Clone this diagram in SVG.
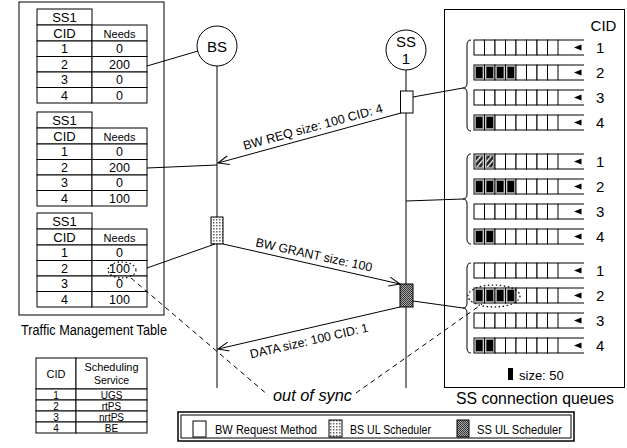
<svg xmlns="http://www.w3.org/2000/svg" xmlns:xlink="http://www.w3.org/1999/xlink" width="627" height="448" viewBox="0 0 627 448">
<style>
.t{font-family:"Liberation Sans",Arial,sans-serif;fill:#000}
.c{text-anchor:middle}
.ln{stroke:#000;stroke-width:1;fill:none}
.cell{fill:#fff;stroke:#000;stroke-width:1}
.dash{stroke:#000;stroke-width:1;fill:none;stroke-dasharray:5,4}
.dot{stroke:#000;stroke-width:1.2;fill:none;stroke-dasharray:1.5,2.5}
.fill{fill:#000;stroke:#999;stroke-width:1}
</style>
<defs>
<marker id="arr" viewBox="0 0 12 10" refX="11" refY="5" markerWidth="12" markerHeight="10" markerUnits="userSpaceOnUse" orient="auto">
<path d="M0,0.5 L11,5 L0,9.5" fill="none" stroke="#000" stroke-width="1"/>
</marker>
<pattern id="bsPat" width="3" height="3" patternUnits="userSpaceOnUse"><rect width="3" height="3" fill="#fff"/><rect width="1.5" height="1.5" fill="#666"/></pattern>
<pattern id="ssPat" width="2" height="2" patternUnits="userSpaceOnUse"><rect width="2" height="2" fill="#aaa"/><rect width="1" height="1" fill="#333"/><rect x="1" y="1" width="1" height="1" fill="#333"/></pattern>
<pattern id="hatch" width="4" height="4" patternUnits="userSpaceOnUse" patternTransform="rotate(40)"><rect width="4" height="4" fill="#222"/><rect width="1.3" height="4" fill="#fff"/></pattern>
<g id="row">
<rect class="cell" x="0" y="0" width="10.5" height="15"/>
<rect class="cell" x="10.5" y="0" width="10.5" height="15"/>
<rect class="cell" x="21" y="0" width="10.5" height="15"/>
<rect class="cell" x="31.5" y="0" width="10.5" height="15"/>
<rect class="cell" x="42" y="0" width="10.5" height="15"/>
<rect class="cell" x="52.5" y="0" width="10.5" height="15"/>
<rect class="cell" x="63" y="0" width="10.5" height="15"/>
<rect class="cell" x="73.5" y="0" width="10.5" height="15"/>
<path class="ln" d="M84,0 H110 M84,15 H110"/>
<polygon points="100,7.5 107.5,4.5 107.5,10.5" fill="#000"/>
</g>
<g id="b1"><rect class="fill" x="1.5" y="1.5" width="7.5" height="12"/></g>
</defs>

<rect width="627" height="448" fill="#fff"/>

<!-- Left panel: traffic management tables -->
<g id="traffic-tables">
<rect class="ln" x="19" y="2" width="145" height="313"/>
<g id="table1" class="t">
<rect class="cell" x="37" y="9" width="55" height="16"/>
<rect class="cell" x="37" y="25" width="55" height="16"/><rect class="cell" x="92" y="25" width="55" height="16"/>
<rect class="cell" x="37" y="41" width="55" height="15.5"/><rect class="cell" x="92" y="41" width="55" height="15.5"/>
<rect class="cell" x="37" y="56.5" width="55" height="15.5"/><rect class="cell" x="92" y="56.5" width="55" height="15.5"/>
<rect class="cell" x="37" y="72" width="55" height="15.5"/><rect class="cell" x="92" y="72" width="55" height="15.5"/>
<rect class="cell" x="37" y="87.5" width="55" height="15.5"/><rect class="cell" x="92" y="87.5" width="55" height="15.5"/>
<text class="t c" x="64.5" y="21.5" font-size="13">SS1</text>
<text class="t c" x="64.5" y="37.5" font-size="13">CID</text>
<text class="t c" x="119.5" y="37.5" font-size="11">Needs</text>
<text class="t c" x="64.5" y="53" font-size="12.5">1</text><text class="t c" x="119.5" y="53" font-size="12.5">0</text>
<text class="t c" x="64.5" y="68.5" font-size="12.5">2</text><text class="t c" x="119.5" y="68.5" font-size="12.5">200</text>
<text class="t c" x="64.5" y="84" font-size="12.5">3</text><text class="t c" x="119.5" y="84" font-size="12.5">0</text>
<text class="t c" x="64.5" y="99.5" font-size="12.5">4</text><text class="t c" x="119.5" y="99.5" font-size="12.5">0</text>
</g>
<g id="table2" class="t">
<rect class="cell" x="37" y="112" width="55" height="16"/>
<rect class="cell" x="37" y="128" width="55" height="16"/><rect class="cell" x="92" y="128" width="55" height="16"/>
<rect class="cell" x="37" y="144" width="55" height="15.5"/><rect class="cell" x="92" y="144" width="55" height="15.5"/>
<rect class="cell" x="37" y="159.5" width="55" height="15.5"/><rect class="cell" x="92" y="159.5" width="55" height="15.5"/>
<rect class="cell" x="37" y="175" width="55" height="15.5"/><rect class="cell" x="92" y="175" width="55" height="15.5"/>
<rect class="cell" x="37" y="190.5" width="55" height="15.5"/><rect class="cell" x="92" y="190.5" width="55" height="15.5"/>
<text class="t c" x="64.5" y="124.5" font-size="13">SS1</text>
<text class="t c" x="64.5" y="140.5" font-size="13">CID</text>
<text class="t c" x="119.5" y="140.5" font-size="11">Needs</text>
<text class="t c" x="64.5" y="156" font-size="12.5">1</text><text class="t c" x="119.5" y="156" font-size="12.5">0</text>
<text class="t c" x="64.5" y="171.5" font-size="12.5">2</text><text class="t c" x="119.5" y="171.5" font-size="12.5">200</text>
<text class="t c" x="64.5" y="187" font-size="12.5">3</text><text class="t c" x="119.5" y="187" font-size="12.5">0</text>
<text class="t c" x="64.5" y="202.5" font-size="12.5">4</text><text class="t c" x="119.5" y="202.5" font-size="12.5">100</text>
</g>
<g id="table3" class="t">
<rect class="cell" x="37" y="213" width="55" height="16"/>
<rect class="cell" x="37" y="229" width="55" height="16"/><rect class="cell" x="92" y="229" width="55" height="16"/>
<rect class="cell" x="37" y="245" width="55" height="15.5"/><rect class="cell" x="92" y="245" width="55" height="15.5"/>
<rect class="cell" x="37" y="260.5" width="55" height="15.5"/><rect class="cell" x="92" y="260.5" width="55" height="15.5"/>
<rect class="cell" x="37" y="276" width="55" height="15.5"/><rect class="cell" x="92" y="276" width="55" height="15.5"/>
<rect class="cell" x="37" y="291.5" width="55" height="15.5"/><rect class="cell" x="92" y="291.5" width="55" height="15.5"/>
<text class="t c" x="64.5" y="225.5" font-size="13">SS1</text>
<text class="t c" x="64.5" y="241.5" font-size="13">CID</text>
<text class="t c" x="119.5" y="241.5" font-size="11">Needs</text>
<text class="t c" x="64.5" y="257" font-size="12.5">1</text><text class="t c" x="119.5" y="257" font-size="12.5">0</text>
<text class="t c" x="64.5" y="272.5" font-size="12.5">2</text><text class="t c" x="119.5" y="272.5" font-size="12.5">100</text>
<text class="t c" x="64.5" y="288" font-size="12.5">3</text><text class="t c" x="119.5" y="288" font-size="12.5">0</text>
<text class="t c" x="64.5" y="303.5" font-size="12.5">4</text><text class="t c" x="119.5" y="303.5" font-size="12.5">100</text>
<ellipse class="dot" cx="122" cy="270" rx="14" ry="8"/>
</g>
<text class="t" x="21" y="335" font-size="14" textLength="146" lengthAdjust="spacingAndGlyphs">Traffic Management Table</text>
</g>

<!-- Scheduling service table -->
<g id="sched-table" class="t">
<rect class="cell" x="36" y="358" width="40" height="31"/><rect class="cell" x="76" y="358" width="71" height="31"/>
<rect class="cell" x="36" y="389" width="40" height="11"/><rect class="cell" x="76" y="389" width="71" height="11"/>
<rect class="cell" x="36" y="400" width="40" height="11"/><rect class="cell" x="76" y="400" width="71" height="11"/>
<rect class="cell" x="36" y="411" width="40" height="11"/><rect class="cell" x="76" y="411" width="71" height="11"/>
<rect class="cell" x="36" y="422" width="40" height="11"/><rect class="cell" x="76" y="422" width="71" height="11"/>
<text class="t c" x="56" y="378" font-size="11">CID</text>
<text class="t c" x="111.5" y="371" font-size="10.5" textLength="54" lengthAdjust="spacingAndGlyphs">Scheduling</text>
<text class="t c" x="111.5" y="384" font-size="10.5">Service</text>
<text class="t c" x="56" y="398.5" font-size="10">1</text><text class="t c" x="111.5" y="398.5" font-size="10">UGS</text>
<text class="t c" x="56" y="409.5" font-size="10">2</text><text class="t c" x="111.5" y="409.5" font-size="10">rtPS</text>
<text class="t c" x="56" y="420.5" font-size="10">3</text><text class="t c" x="111.5" y="420.5" font-size="10">nrtPS</text>
<text class="t c" x="56" y="431.5" font-size="10">4</text><text class="t c" x="111.5" y="431.5" font-size="10">BE</text>
</g>

<!-- BS node -->
<g id="bs">
<line class="ln" x1="217" y1="66" x2="217" y2="388"/>
<circle cx="217" cy="46" r="20" fill="#fff" stroke="#000"/>
<text class="t c" x="217" y="51.5" font-size="15">BS</text>
<rect x="211" y="217" width="12" height="27" fill="url(#bsPat)" stroke="#000"/>
</g>

<!-- SS1 node -->
<g id="ss1">
<line class="ln" x1="406" y1="70" x2="406" y2="388"/>
<circle cx="406" cy="50" r="20" fill="#fff" stroke="#000"/>
<text class="t c" x="406" y="47" font-size="15">SS</text>
<text class="t c" x="406" y="64" font-size="15">1</text>
<rect x="400.5" y="91" width="12.5" height="22" fill="#fff" stroke="#000"/>
<rect x="400" y="284" width="13" height="23" fill="url(#ssPat)" stroke="#000"/>
</g>

<!-- Right panel: SS connection queues -->
<g id="queues">
<rect class="ln" x="444.5" y="9.5" width="180" height="378"/>
<text class="t c" x="603.5" y="31" font-size="15">CID</text>
<g id="qgroup1">
<path class="ln" d="M471,40 Q467,40 467,45 V83 Q467,88 463,88 Q467,88 467,93 V126 Q467,131 471,131"/>
<use xlink:href="#row" x="474" y="40"/>
<use xlink:href="#row" x="474" y="65"/>
<use xlink:href="#row" x="474" y="90"/>
<use xlink:href="#row" x="474" y="115"/>
<use xlink:href="#b1" x="474" y="65"/><use xlink:href="#b1" x="484.5" y="65"/><use xlink:href="#b1" x="495" y="65"/><use xlink:href="#b1" x="505.5" y="65"/>
<use xlink:href="#b1" x="474" y="115"/><use xlink:href="#b1" x="484.5" y="115"/>
<text class="t" x="596" y="53" font-size="15">1</text>
<text class="t" x="596" y="78" font-size="15">2</text>
<text class="t" x="596" y="103" font-size="15">3</text>
<text class="t" x="596" y="128" font-size="15">4</text>
</g>
<g id="qgroup2">
<path class="ln" d="M471,154 Q467,154 467,159 V194 Q467,199 463,199 Q467,199 467,204 V239 Q467,244 471,244"/>
<use xlink:href="#row" x="474" y="154"/>
<use xlink:href="#row" x="474" y="179"/>
<use xlink:href="#row" x="474" y="204"/>
<use xlink:href="#row" x="474" y="229"/>
<rect x="475.5" y="155.5" width="7.5" height="12" fill="url(#hatch)" stroke="#999"/>
<rect x="486" y="155.5" width="7.5" height="12" fill="url(#hatch)" stroke="#999"/>
<use xlink:href="#b1" x="474" y="179"/><use xlink:href="#b1" x="484.5" y="179"/><use xlink:href="#b1" x="495" y="179"/><use xlink:href="#b1" x="505.5" y="179"/>
<use xlink:href="#b1" x="474" y="229"/><use xlink:href="#b1" x="484.5" y="229"/>
<text class="t" x="596" y="167" font-size="15">1</text>
<text class="t" x="596" y="192" font-size="15">2</text>
<text class="t" x="596" y="217" font-size="15">3</text>
<text class="t" x="596" y="242" font-size="15">4</text>
</g>
<g id="qgroup3">
<path class="ln" d="M471,263 Q467,263 467,268 V303 Q467,308 463,308 Q467,308 467,313 V348 Q467,353 471,353"/>
<use xlink:href="#row" x="474" y="263"/>
<use xlink:href="#row" x="474" y="288"/>
<use xlink:href="#row" x="474" y="313"/>
<use xlink:href="#row" x="474" y="338"/>
<use xlink:href="#b1" x="474" y="288"/><use xlink:href="#b1" x="484.5" y="288"/><use xlink:href="#b1" x="495" y="288"/><use xlink:href="#b1" x="505.5" y="288"/>
<use xlink:href="#b1" x="474" y="338"/><use xlink:href="#b1" x="484.5" y="338"/>
<ellipse class="dot" cx="494" cy="296" rx="26" ry="11"/>
<text class="t" x="596" y="276" font-size="15">1</text>
<text class="t" x="596" y="301" font-size="15">2</text>
<text class="t" x="596" y="326" font-size="15">3</text>
<text class="t" x="596" y="351" font-size="15">4</text>
</g>
<rect x="508" y="368" width="5" height="12" fill="#000"/>
<text class="t" x="519" y="380" font-size="13">size: 50</text>
<text class="t c" x="535" y="404" font-size="16" textLength="158" lengthAdjust="spacingAndGlyphs">SS connection queues</text>
</g>

<!-- Connectors -->
<g id="connectors">
<line class="ln" x1="147" y1="66" x2="198" y2="51"/>
<line class="ln" x1="147" y1="168" x2="217" y2="165"/>
<line class="ln" x1="147" y1="268" x2="215" y2="244"/>
<line class="ln" x1="413" y1="97" x2="463" y2="88"/>
<line class="ln" x1="406" y1="201" x2="463" y2="199"/>
<line class="ln" x1="413" y1="301" x2="463" y2="308"/>
<line class="ln" x1="401" y1="113" x2="218" y2="163" marker-end="url(#arr)"/>
<line class="ln" x1="223" y1="244" x2="400" y2="284" marker-end="url(#arr)"/>
<line class="ln" x1="400" y1="307" x2="218" y2="349" marker-end="url(#arr)"/>
<line class="dash" x1="131" y1="278" x2="268" y2="395"/>
<line class="dash" x1="356" y1="393" x2="482" y2="304"/>
<text class="t c" transform="translate(314,131) rotate(-15.2)" font-size="12.5" textLength="144" lengthAdjust="spacingAndGlyphs">BW REQ size: 100 CID: 4</text>
<text class="t c" transform="translate(313,259) rotate(12.4)" font-size="12.5" textLength="119" lengthAdjust="spacingAndGlyphs">BW GRANT size: 100</text>
<text class="t c" transform="translate(310,345) rotate(-13)" font-size="12.5" textLength="121" lengthAdjust="spacingAndGlyphs">DATA size: 100 CID: 1</text>
<text class="t" x="273" y="401" font-size="16" font-style="italic" textLength="79" lengthAdjust="spacingAndGlyphs">out of sync</text>
</g>

<!-- Legend -->
<g id="legend">
<rect x="178" y="412" width="396" height="29" fill="#fff" stroke="#000" stroke-width="1.5"/>
<rect x="181" y="415" width="390" height="23" fill="none" stroke="#000" stroke-width="1"/>
<rect x="193" y="421" width="13" height="16" fill="#fff" stroke="#000"/>
<text class="t" x="215" y="434" font-size="12" textLength="102" lengthAdjust="spacingAndGlyphs">BW Request Method</text>
<rect x="329" y="420" width="13" height="17" fill="url(#bsPat)" stroke="#000"/>
<text class="t" x="350" y="434" font-size="12" textLength="81" lengthAdjust="spacingAndGlyphs">BS UL Scheduler</text>
<rect x="457" y="420" width="12" height="17" fill="url(#ssPat)" stroke="#000"/>
<text class="t" x="477" y="434" font-size="12" textLength="85" lengthAdjust="spacingAndGlyphs">SS UL Scheduler</text>
</g>
</svg>
